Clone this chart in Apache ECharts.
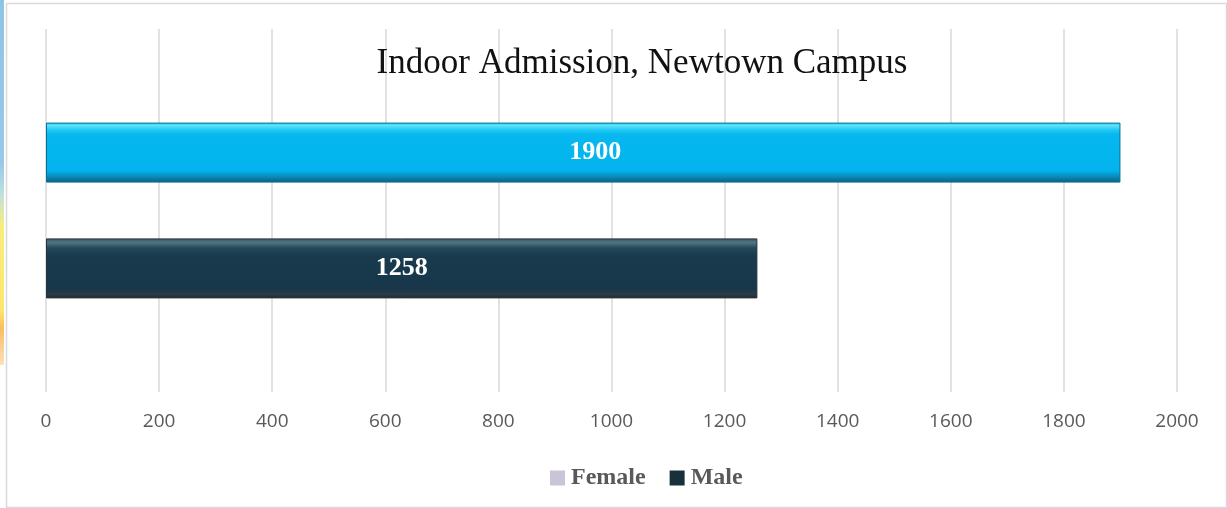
<!DOCTYPE html>
<html>
<head>
<meta charset="utf-8">
<title>Indoor Admission, Newtown Campus</title>
<script src="https://cdn.jsdelivr.net/npm/echarts@6/dist/echarts.min.js"></script>
<style>
  html, body { margin: 0; padding: 0; background: #ffffff; }
  #chart { width: 1227px; height: 508px; }
</style>
</head>
<body>
<div id="chart"></div>
<script>
// Chart data
const titleText = 'Indoor Admission, Newtown Campus';
const categories = [''];
const seriesNames = ['Female', 'Male'];
const femaleValues = [1900];
const maleValues = [1258];
const axisMin = 0;
const axisMax = 2000;
const axisInterval = 200;

const chart = echarts.init(document.getElementById('chart'), null, { renderer: 'canvas' });

// Bevel-like vertical gradients for the bars
const femaleFill = new echarts.graphic.LinearGradient(0, 0, 0, 1, [
  { offset: 0.00, color: '#2cc8f4' },
  { offset: 0.05, color: '#5ee2fb' },
  { offset: 0.12, color: '#22c9f4' },
  { offset: 0.20, color: '#06b8ef' },
  { offset: 0.80, color: '#02b3ed' },
  { offset: 0.88, color: '#0a93c4' },
  { offset: 1.00, color: '#0b5f82' }
]);
const maleFill = new echarts.graphic.LinearGradient(0, 0, 0, 1, [
  { offset: 0.00, color: '#3a5664' },
  { offset: 0.07, color: '#4f7582' },
  { offset: 0.16, color: '#24475a' },
  { offset: 0.30, color: '#193a4d' },
  { offset: 0.84, color: '#173649' },
  { offset: 0.93, color: '#2b3c46' },
  { offset: 1.00, color: '#1f2a31' }
]);

const option = {
  backgroundColor: '#ffffff',
  animation: false,
  title: {
    text: titleText,
    left: 637,
    textAlign: 'center',
    top: 41,
    textStyle: {
      fontFamily: 'Liberation Serif',
      fontSize: 35,
      fontWeight: 'normal',
      color: '#111111'
    }
  },
  legend: {
    top: 461,
    left: 545,
    itemWidth: 15,
    itemHeight: 15,
    itemGap: 24,
    itemStyle: { borderWidth: 0 },
    textStyle: {
      fontFamily: 'Liberation Serif',
      fontSize: 24,
      fontWeight: 'bold',
      color: '#595959',
      padding: [0, 0, 0, 1]
    },
    data: [
      { name: seriesNames[0], icon: 'rect', itemStyle: { color: '#cbc4d8', borderWidth: 0 } },
      { name: seriesNames[1], icon: 'rect', itemStyle: { color: '#17303a', borderWidth: 0 } }
    ]
  },
  grid: {
    left: 46,
    right: 50,
    top: 29,
    bottom: 116,
    containLabel: false
  },
  xAxis: {
    type: 'value',
    min: axisMin,
    max: axisMax,
    interval: axisInterval,
    axisLine: { show: false },
    axisTick: { show: false },
    splitLine: { show: true, lineStyle: { color: '#d9d9d9', width: 1.5 } },
    axisLabel: {
      margin: 20,
      fontFamily: 'Open Sans',
      fontSize: 19,
      color: '#595959',
      formatter: (v) => String(v)
    }
  },
  yAxis: {
    type: 'category',
    data: categories,
    inverse: true,
    axisLine: { show: false },
    axisTick: { show: false },
    axisLabel: { show: false },
    splitLine: { show: false }
  },
  series: [
    {
      name: seriesNames[0],
      type: 'bar',
      data: femaleValues,
      barWidth: 60,
      barGap: '93%',
      itemStyle: { color: femaleFill, borderColor: '#0a6f96', borderWidth: 1 },
      label: {
        show: true,
        position: 'inside',
        offset: [12, 0],
        fontFamily: 'Liberation Serif',
        fontSize: 26,
        fontWeight: 'bold',
        color: '#ffffff'
      }
    },
    {
      name: seriesNames[1],
      type: 'bar',
      data: maleValues,
      barWidth: 60,
      barGap: '93%',
      itemStyle: { color: maleFill, borderColor: '#25343c', borderWidth: 1 },
      label: {
        show: true,
        position: 'inside',
        fontFamily: 'Liberation Serif',
        fontSize: 26,
        fontWeight: 'bold',
        color: '#ffffff'
      }
    }
  ],
  graphic: [
    {
      // outer chart frame
      type: 'rect',
      left: 4,
      top: 1,
      shape: { width: 1220, height: 504 },
      style: { fill: 'none', stroke: '#d9d9d9', lineWidth: 1.5 },
      silent: true
    },
    {
      // coloured sliver at the left edge
      type: 'rect',
      left: 0,
      top: 0,
      z: 10,
      shape: { width: 4, height: 365 },
      style: {
        fill: new echarts.graphic.LinearGradient(0, 0, 0, 1, [
          { offset: 0.00, color: '#8ec4e4' },
          { offset: 0.45, color: '#98cae8' },
          { offset: 0.53, color: '#c0e0e0' },
          { offset: 0.62, color: '#f9ee7c' },
          { offset: 0.85, color: '#fde66c' },
          { offset: 0.90, color: '#fbbc62' },
          { offset: 1.00, color: '#fde0bc' }
        ])
      },
      silent: true
    }
  ]
};

chart.setOption(option);
</script>
</body>
</html>
